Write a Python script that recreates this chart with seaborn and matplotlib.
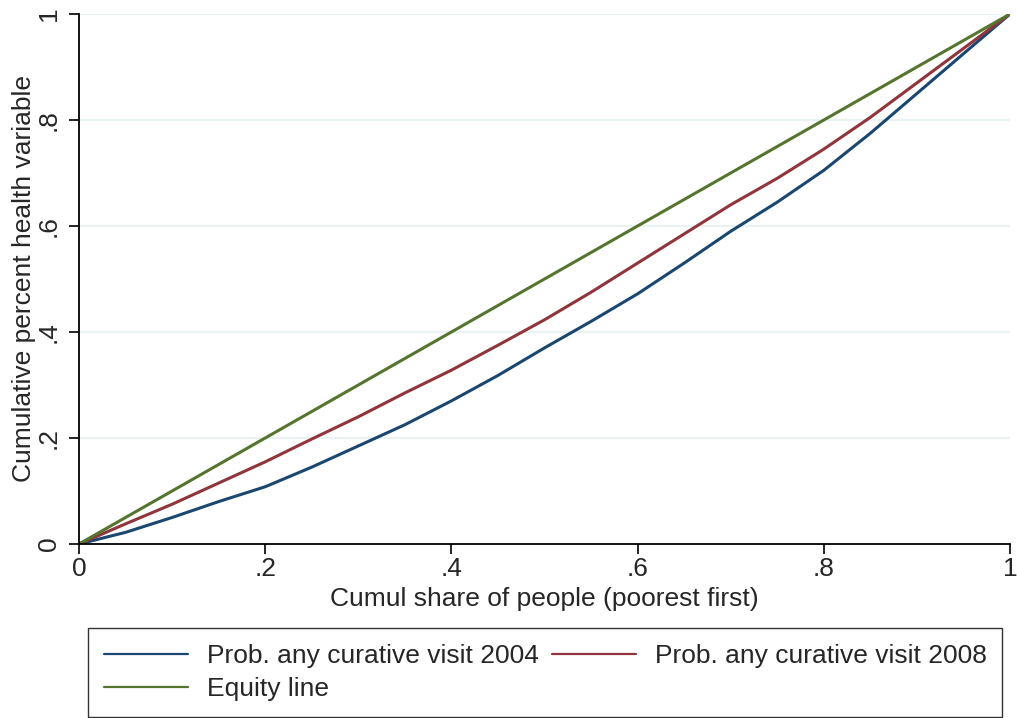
import pandas as pd
import seaborn as sns
import matplotlib.pyplot as plt

# cumulative share of people (poorest first)
share = [0, .05, .1, .15, .2, .25, .3, .35, .4, .45, .5,
         .55, .6, .65, .7, .75, .8, .85, .9, .95, 1]

# concentration curves
visit_2004 = [0, .022, .05, .08, .108, .145, .185, .225, .27, .318, .37,
              .42, .472, .53, .59, .645, .705, .775, .85, .925, 1]
visit_2008 = [0, .038, .075, .115, .155, .198, .24, .285, .328, .375, .423,
              .475, .53, .585, .64, .69, .745, .805, .87, .935, 1]
equity = share

labels = ["Prob. any curative visit 2004", "Prob. any curative visit 2008", "Equity line"]
colors = ["#1a476f", "#90353b", "#55752f"]

ticks = [0, .2, .4, .6, .8, 1]
tick_labels = ["0", ".2", ".4", ".6", ".8", "1"]

df = pd.concat([
    pd.DataFrame({"share": share, "value": visit_2004, "series": labels[0]}),
    pd.DataFrame({"share": share, "value": visit_2008, "series": labels[1]}),
    pd.DataFrame({"share": share, "value": equity, "series": labels[2]}),
])

sns.set_style("white")
plt.rcParams["font.family"] = ["Liberation Sans", "DejaVu Sans"]

fig = plt.figure(figsize=(10.17, 7.18), dpi=100)
ax = fig.add_axes([79 / 1017, 1 - 544 / 718, 931 / 1017, 530 / 718])

for y in ticks[1:]:
    ax.axhline(y, color="#eaf2f3", lw=1.6, zorder=0)

sns.lineplot(data=df, x="share", y="value", hue="series", palette=colors,
             hue_order=labels, linewidth=2.2, ax=ax, legend=False)

ax.set_xlim(0, 1)
ax.set_ylim(0, 1)
ax.set_xticks(ticks, tick_labels, fontsize=19)
ax.set_yticks(ticks, tick_labels, fontsize=19, rotation=90, va="center")
ax.tick_params(axis="both", direction="out", length=7, width=1.2, color="black",
               bottom=True, left=True)
ax.tick_params(axis="x", pad=2)
ax.tick_params(axis="y", pad=6)

for side in ["top", "right"]:
    ax.spines[side].set_visible(False)
for side in ["left", "bottom"]:
    ax.spines[side].set_color("black")
    ax.spines[side].set_linewidth(1.3)

ax.set_xlabel("Cumul share of people (poorest first)", fontsize=19, labelpad=5)
ax.set_ylabel("Cumulative percent health variable", fontsize=19, labelpad=1)

# row-wise order: 2004, 2008 on the first row, equity line below
order = [0, 2, 1]
handles = [plt.Line2D([], [], color=colors[i], lw=1.6) for i in order]
leg = fig.legend(handles, [labels[i] for i in order], ncol=2, loc="upper left",
                 bbox_to_anchor=(88 / 1017, 1 - 628 / 718),
                 fontsize=19, frameon=True, fancybox=False,
                 handlelength=3.2, handletextpad=0.7, columnspacing=0.5,
                 borderpad=0.6, labelspacing=0.34, borderaxespad=0)
leg.get_frame().set_edgecolor("black")
leg.get_frame().set_linewidth(1.0)

fig.savefig("out.png", dpi=100, facecolor="white")
